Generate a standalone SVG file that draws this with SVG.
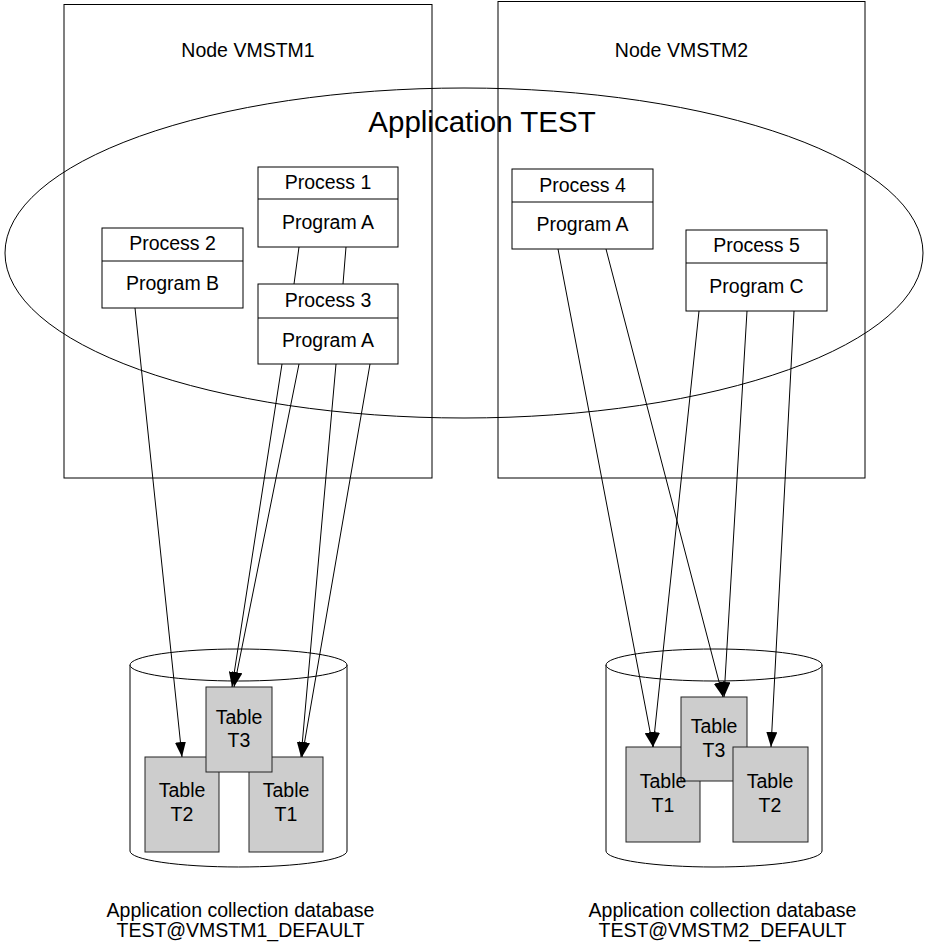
<svg xmlns="http://www.w3.org/2000/svg" width="925" height="945" viewBox="0 0 925 945">
<style>
  text { font-family: "Liberation Sans", Arial, sans-serif; font-size: 19.5px; fill: #000; text-anchor: middle; }
  .box { fill: none; stroke: #000; stroke-width: 1; }
  .proc { fill: #fff; stroke: #000; stroke-width: 1; }
  .tbl { fill: #cdcdcd; stroke: #222; stroke-width: 1; }
  .cyl { fill: #fff; stroke: #000; stroke-width: 1; }
  .conn line { stroke: #000; stroke-width: 1; fill: none; }
  .big { font-size: 29.5px; }
</style>
<defs>
  <marker id="arr" markerUnits="userSpaceOnUse" markerWidth="16" markerHeight="11" refX="15" refY="5.5" orient="auto">
    <path d="M0,0 L15,5.5 L0,11 z" fill="#000"/>
  </marker>
</defs>
<rect width="925" height="945" fill="#fff"/>

<g id="node-vmstm1">
  <rect class="box" x="64" y="4.5" width="368" height="473.5"/>
  <text x="248" y="57">Node VMSTM1</text>
</g>
<g id="node-vmstm2">
  <rect class="box" x="498" y="1.5" width="367" height="476.5"/>
  <text x="681.5" y="57">Node VMSTM2</text>
</g>

<g id="application-test">
  <ellipse cx="464" cy="253" rx="459" ry="165" fill="none" stroke="#000" stroke-width="1"/>
  <text class="big" x="482" y="132">Application TEST</text>
</g>

<g id="process1">
  <rect class="proc" x="258" y="167" width="140" height="80"/>
  <line x1="258" y1="199" x2="398" y2="199" stroke="#000"/>
  <text x="328" y="189">Process 1</text>
  <text x="328" y="229">Program A</text>
</g>
<g id="process2">
  <rect class="proc" x="102" y="228" width="141" height="80"/>
  <line x1="102" y1="261" x2="243" y2="261" stroke="#000"/>
  <text x="172.5" y="250">Process 2</text>
  <text x="172.5" y="290">Program B</text>
</g>
<g id="process3">
  <rect class="proc" x="258" y="284" width="140" height="80"/>
  <line x1="258" y1="318" x2="398" y2="318" stroke="#000"/>
  <text x="328" y="307">Process 3</text>
  <text x="328" y="347">Program A</text>
</g>
<g id="process4">
  <rect class="proc" x="512" y="169" width="141" height="80"/>
  <line x1="512" y1="202" x2="653" y2="202" stroke="#000"/>
  <text x="582.5" y="192">Process 4</text>
  <text x="582.5" y="231">Program A</text>
</g>
<g id="process5">
  <rect class="proc" x="686" y="230" width="141" height="81"/>
  <line x1="686" y1="263" x2="827" y2="263" stroke="#000"/>
  <text x="756.5" y="252">Process 5</text>
  <text x="756.5" y="293">Program C</text>
</g>

<g id="db1">
  <path class="cyl" d="M130,665 L130,851 A108.5,16 0 0 0 347,851 L347,665 Z"/>
  <ellipse class="cyl" cx="238.5" cy="665" rx="108.5" ry="16"/>
  <text x="240.5" y="917">Application collection database</text>
  <text x="240.5" y="937">TEST@VMSTM1_DEFAULT</text>
</g>
<g id="db1-t2">
  <rect class="tbl" x="145" y="757" width="74" height="95"/>
  <text x="182" y="797">Table</text>
  <text x="182" y="821">T2</text>
</g>
<g id="db1-t1">
  <rect class="tbl" x="249" y="757" width="74" height="95"/>
  <text x="286" y="797">Table</text>
  <text x="286" y="821">T1</text>
</g>
<g id="db1-t3">
  <rect class="tbl" x="206" y="687" width="66" height="85"/>
  <text x="239" y="724">Table</text>
  <text x="239" y="747">T3</text>
</g>

<g id="db2">
  <path class="cyl" d="M606,665 L606,851 A108,16 0 0 0 822,851 L822,665 Z"/>
  <ellipse class="cyl" cx="714" cy="665" rx="108" ry="16"/>
  <text x="722.5" y="917">Application collection database</text>
  <text x="722.5" y="937">TEST@VMSTM2_DEFAULT</text>
</g>
<g id="db2-t1">
  <rect class="tbl" x="626" y="747" width="74" height="95"/>
</g>
<g id="db2-t3">
  <rect class="tbl" x="681" y="697" width="66" height="84"/>
  <text x="714" y="733">Table</text>
  <text x="714" y="757">T3</text>
</g>
<g id="db2-t2">
  <rect class="tbl" x="733" y="747" width="75" height="95"/>
  <text x="770" y="788">Table</text>
  <text x="770" y="812">T2</text>
</g>
<g id="db2-t1-label">
  <text x="663" y="788">Table</text>
  <text x="663" y="812">T1</text>
</g>

<g class="conn" id="connectors">
  <line x1="299" y1="247" x2="294" y2="284"/>
  <line x1="346" y1="247" x2="343" y2="284"/>
  <line x1="135" y1="308" x2="182" y2="757" marker-end="url(#arr)"/>
  <line x1="282" y1="364" x2="232" y2="687" marker-end="url(#arr)"/>
  <line x1="299" y1="364" x2="234" y2="687" marker-end="url(#arr)"/>
  <line x1="336" y1="364" x2="301" y2="757" marker-end="url(#arr)"/>
  <line x1="370" y1="364" x2="302" y2="757" marker-end="url(#arr)"/>
  <line x1="558" y1="249" x2="653" y2="747" marker-end="url(#arr)"/>
  <line x1="606" y1="249" x2="723" y2="697" marker-end="url(#arr)"/>
  <line x1="699" y1="311" x2="653" y2="747" marker-end="url(#arr)"/>
  <line x1="747" y1="311" x2="724" y2="697" marker-end="url(#arr)"/>
  <line x1="794" y1="311" x2="771" y2="747" marker-end="url(#arr)"/>
</g>
</svg>
